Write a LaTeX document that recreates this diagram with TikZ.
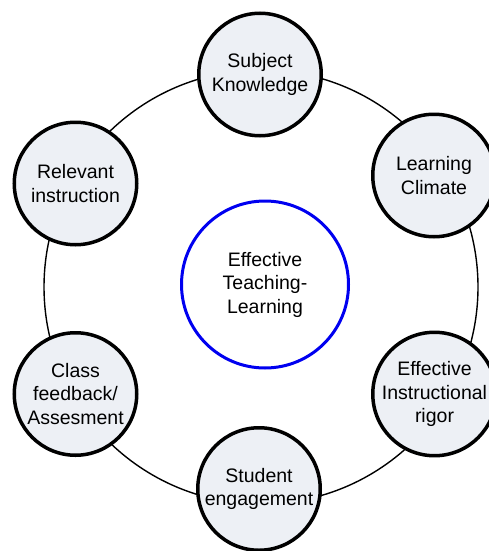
\documentclass[tikz,border=0pt]{standalone}
\usepackage{fontspec}
\setmainfont{Liberation Sans}
\definecolor{nodefill}{HTML}{EDF0F5}
\definecolor{ringblue}{HTML}{0000F0}
\begin{document}
\begin{tikzpicture}[x=1pt,y=-1pt,
  topic/.style={circle, draw=black, line width=3.5pt, fill=nodefill, minimum size=122.5pt, inner sep=0pt, align=center, font=\fontsize{19.5}{23.5}\selectfont},
  hub/.style={circle, draw=ringblue, line width=3pt, minimum size=167pt, inner sep=0pt, align=center, font=\fontsize{19.5}{23.5}\selectfont},
  ring/.style={draw=black, line width=1.4pt}]
\useasboundingbox (0,0) rectangle (489,551);
\clip (0,0) rectangle (489,551);
\coordinate (rc) at (261,287);
\draw[ring] (rc) circle[radius=217];
\node[hub] (etl) at (265,284.5) {Effective\\Teaching-\\Learning};
\node[topic] (sk) at (260,74.5) {Subject\\Knowledge};
\node[topic] (lc) at (434,175.5) {Learning\\Climate};
\node[topic] (eir) at (434.5,394) {Effective\\Instructional\\rigor};
\node[topic] (se) at (259,489) {Student\\engagement};
\node[topic] (cfa) at (75.5,394) {Class\\feedback/\\Assesment};
\node[topic] (ri) at (75.5,183.5) {Relevant\\instruction};
\end{tikzpicture}
\end{document}
